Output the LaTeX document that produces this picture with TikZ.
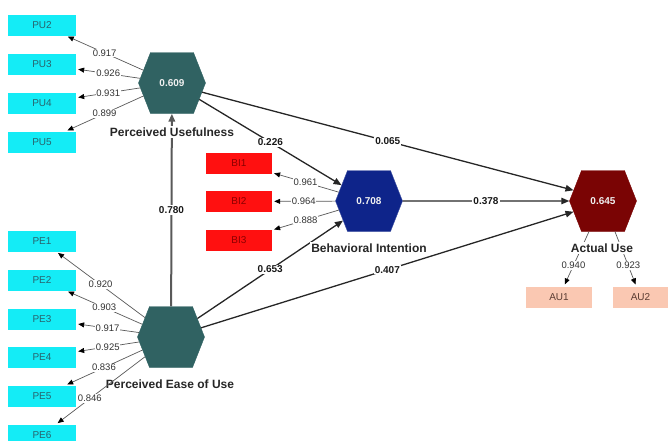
\documentclass[tikz,border=0pt]{standalone}
\usepackage{fontspec}
\setmainfont{Liberation Sans}
\usetikzlibrary{shapes.symbols,arrows.meta}
\definecolor{cy}{RGB}{20,236,246}
\definecolor{rbox}{RGB}{255,16,16}
\definecolor{aubox}{RGB}{250,200,178}
\definecolor{tealh}{RGB}{48,98,98}
\definecolor{navyh}{RGB}{14,36,138}
\definecolor{redh}{RGB}{122,4,4}
\definecolor{tealtxt}{RGB}{40,100,110}
\definecolor{redtxt}{RGB}{140,0,0}
\definecolor{autxt}{RGB}{90,60,50}
\begin{document}
\begin{tikzpicture}[x=1pt,y=-1pt,
  hexa/.style={shape=signal, signal to=east and west, signal pointer angle=137,
    minimum width=67pt, minimum height=61pt, inner sep=0pt,
    text=white!88!gray, font=\bfseries\fontsize{10}{12}\selectfont},
  ibox/.style={rectangle, minimum width=68pt, minimum height=21pt, inner sep=0pt,
    font=\fontsize{10}{12}\selectfont},
  cybox/.style={ibox, fill=cy, text=tealtxt},
  rdbox/.style={ibox, minimum width=66pt, fill=rbox, text=redtxt},
  aubx/.style={ibox, minimum width=66pt, fill=aubox, text=autxt},
  lbl/.style={fill=white, inner sep=0.8pt, text=black!80, font=\fontsize{9.5}{11}\selectfont},
  slbl/.style={fill=white, inner sep=1pt, text=black!90, font=\bfseries\fontsize{10}{12}\selectfont},
  cname/.style={fill=white, inner sep=1.5pt, text=black!85, font=\bfseries\fontsize{12}{14}\selectfont},
  ind/.style={draw=black!65, line width=0.7pt, shorten >=2pt, -{Triangle[length=6pt,width=5pt,black]}},
  strc/.style={draw=black!85, line width=1.3pt, -{Triangle[length=8pt,width=6.5pt]}},
  vstrc/.style={strc, draw=black!65, line width=2pt}
]
\useasboundingbox (0,0) rectangle (671,440);
\clip (0,0) rectangle (671,440);

% latent variables
\node[hexa, fill=tealh, draw=tealh] (pu) at (172,83) {0.609};
\node[hexa, fill=tealh, draw=tealh] (pe) at (171,337) {};
\node[hexa, fill=navyh, draw=navyh!80!white] (bi) at (369,201) {0.708};
\node[hexa, fill=redh, draw=redh] (au) at (603,201) {0.645};

% indicators
\node[cybox] (pu2) at (42,25) {PU2};
\node[cybox] (pu3) at (42,64) {PU3};
\node[cybox] (pu4) at (42,103) {PU4};
\node[cybox] (pu5) at (42,142) {PU5};
\node[cybox] (pe1) at (42,241) {PE1};
\node[cybox] (pe2) at (42,280) {PE2};
\node[cybox] (pe3) at (42,319) {PE3};
\node[cybox] (pe4) at (42,357) {PE4};
\node[cybox] (pe5) at (42,396) {PE5};
\node[cybox] (pe6) at (42,435) {PE6};
\node[rdbox] (bi1) at (239,163) {BI1};
\node[rdbox] (bi2) at (239,201.5) {BI2};
\node[rdbox] (bi3) at (239,240) {BI3};
\node[aubx] (au1) at (559,297) {AU1};
\node[aubx, minimum width=55pt] (au2) at (640.5,297) {AU2};

% structural paths
\draw[vstrc] (pe) -- node[slbl]{0.780} (pu);
\draw[strc] (pu.-31) -- node[slbl]{0.226} (bi.150);
\draw[strc] (pu.-17) -- node[slbl]{0.065} (au.160);
\draw[strc] (bi) -- node[slbl]{0.378} (au);
\draw[strc] (pe.35) -- node[slbl]{0.653} (bi.217);
\draw[strc] (pe.17) -- node[slbl]{0.407} (au.200);

% outer loadings (before labels)
\draw[ind] (au) -- node[lbl, pos=0.62]{0.940} (au1);
\draw[ind] (au) -- node[lbl, pos=0.62]{0.923} (au2);
\draw[ind] (pu) -- node[lbl]{0.917} (pu2);
\draw[ind] (pu) -- node[lbl]{0.926} (pu3);
\draw[ind] (pu) -- node[lbl]{0.931} (pu4);
\draw[ind] (pu) -- node[lbl]{0.899} (pu5);
\draw[ind] (bi) -- node[lbl]{0.961} (bi1);
\draw[ind] (bi) -- node[lbl]{0.964} (bi2);
\draw[ind] (bi) -- node[lbl]{0.888} (bi3);

% construct names
\node[cname] (nmpu) at (172,132) {Perceived Usefulness};
\node[cname] (nmpe) at (170,384) {Perceived Ease of Use};
\node[cname] (nmbi) at (369,248) {Behavioral Intention};
\node[cname] (nmau) at (602,248) {Actual Use};

% PE loadings
\draw[ind] (pe) -- node[lbl]{0.920} (pe1);
\draw[ind] (pe) -- node[lbl]{0.903} (pe2);
\draw[ind] (pe) -- node[lbl]{0.917} (pe3);
\draw[ind] (pe) -- node[lbl]{0.925} (pe4);
\draw[ind] (pe) -- node[lbl]{0.836} (pe5);
\draw[ind] (pe) -- node[lbl, pos=0.62]{0.846} (pe6);
\end{tikzpicture}
\end{document}
